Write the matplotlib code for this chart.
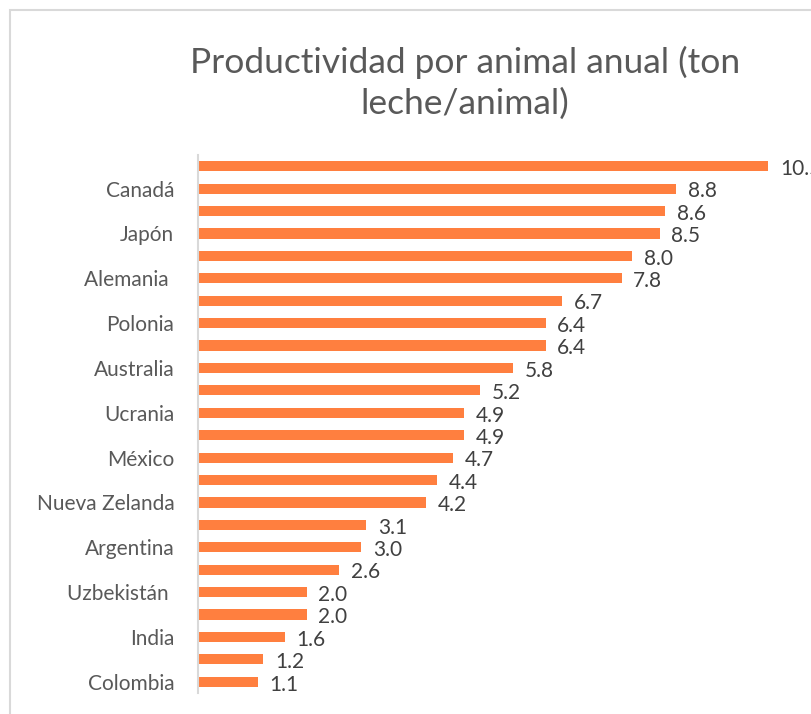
import matplotlib
matplotlib.use("Agg")
from matplotlib import pyplot as plt
from matplotlib.patches import Rectangle

plt.rcParams['font.family'] = ['Lato', 'DejaVu Sans']

# Data, top to bottom as in the picture (only every second country is labelled)
countries = ['', 'Canadá', '', 'Japón', '', 'Alemania ', '', 'Polonia',
             '', 'Australia', '', 'Ucrania', '', 'México', '', 'Nueva Zelanda',
             '', 'Argentina', '', 'Uzbekistán ', '', 'India', '', 'Colombia']
productividad = [10.5, 8.8, 8.6, 8.5, 8.0, 7.8, 6.7, 6.4, 6.4, 5.8, 5.2, 4.9,
                 4.9, 4.7, 4.4, 4.2, 3.1, 3.0, 2.6, 2.0, 2.0, 1.6, 1.2, 1.1]

W, H = 812, 714
fig = plt.figure(figsize=(W / 100, H / 100), dpi=100)

# chart frame, like the excel chart border
fig.patches.append(Rectangle((10 / W, -0.1), 1.2, 1 - 10 / H + 0.1,
                             transform=fig.transFigure, fill=False,
                             edgecolor='#d9d9d9', linewidth=1.5))

ax = fig.add_axes([198 / W, 1 - 693 / H, (W - 198) / W, 538 / H])

ypos = list(range(len(productividad)))
ax.barh(ypos, productividad, height=0.45, color='#FF7F3F')
ax.set_ylim(len(productividad) - 0.5, -0.5)
ax.set_xlim(0, (W - 198) / 54.3)

for y, v in zip(ypos, productividad):
    ax.annotate('%.1f' % v, (v, y), xytext=(8.5, -2), textcoords='offset points',
                ha='left', va='center', fontsize=15, color='#404040',
                annotation_clip=False)

ax.set_yticks(ypos)
ax.set_yticklabels(countries, fontsize=15, color='#595959')
ax.tick_params(axis='y', length=0, pad=17)
ax.set_xticks([])
for s in ['top', 'right', 'bottom']:
    ax.spines[s].set_visible(False)
ax.spines['left'].set_color('#d9d9d9')
ax.spines['left'].set_linewidth(1.5)

fig.text(465 / W, 1 - 83 / H, 'Productividad por animal anual (ton\nleche/animal)',
         ha='center', va='center', fontsize=25.5, color='#595959', linespacing=1.3)

fig.savefig('out.png', dpi=100)
